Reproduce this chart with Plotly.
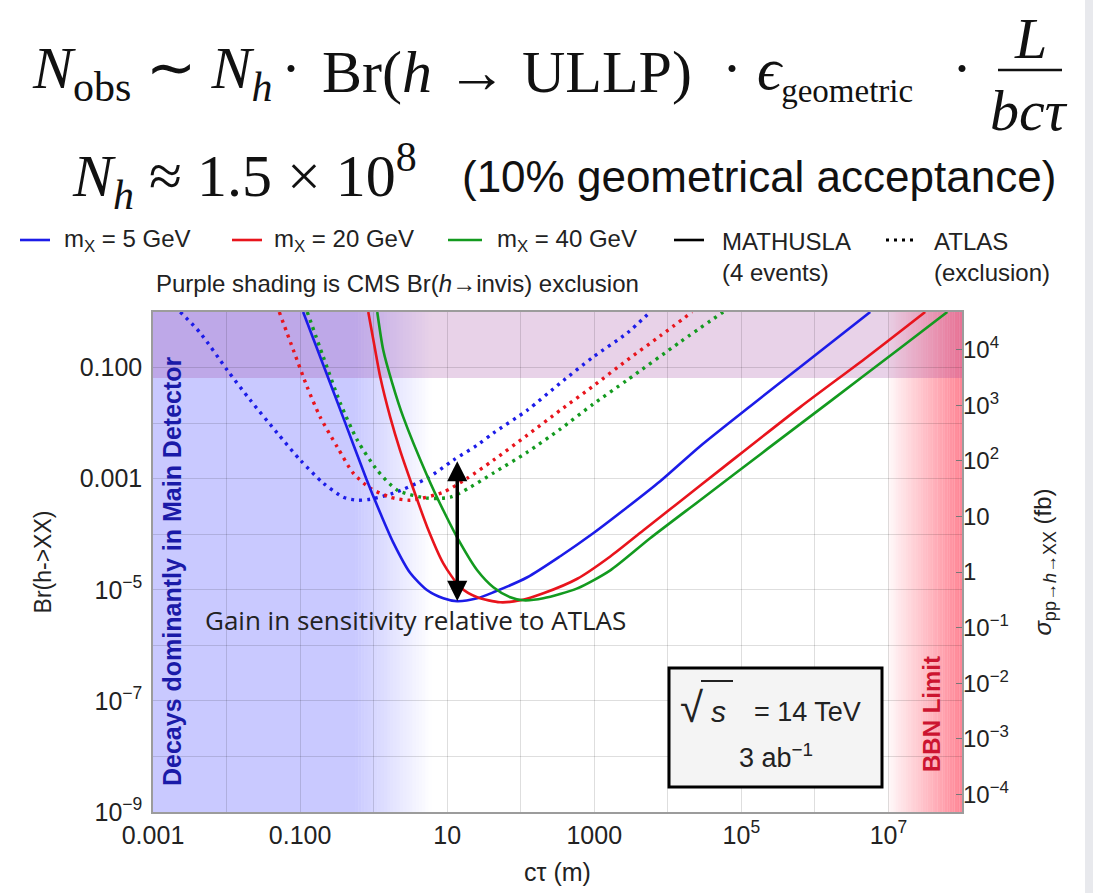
import math
import plotly.graph_objects as go

# ---------------- data ----------------
# MATHUSLA 4-event sensitivity (solid): c*tau [m] vs Br(h->XX)
ct_math_5 = [0.110, 0.213, 0.412, 0.794, 1.26, 1.85, 3.15, 5.36, 8.85, 13.7, 25.6, 42.4, 123, 345, 966, 2810, 7870, 2.75e4, 1.32e5, 6.31e5, 5.65e6]
br_math_5 = [1.0, 0.100, 0.0100, 1.00e-3, 2.24e-4, 7.08e-5, 2.0e-5, 9.8e-6, 7.03e-6, 6.21e-6, 7.03e-6, 9.0e-6, 1.68e-5, 4.02e-5, 1.04e-4, 3.06e-4, 9.0e-4, 3.85e-3, 0.0202, 0.102, 1.0]

ct_math_20 = [0.845, 1.05, 1.23, 1.68, 2.30, 3.15, 5.36, 8.85, 15.1, 25.6, 52.7, 98.6, 203, 588, 1650, 4620, 1.34e4, 5.62e4, 6.31e5, 5.14e6, 3.16e7]
br_math_20 = [1.0, 0.207, 0.0675, 0.0128, 3.16e-3, 9.4e-4, 1.34e-4, 3.0e-5, 1.11e-5, 7.33e-6, 5.96e-6, 6.47e-6, 8.65e-6, 1.58e-5, 3.98e-5, 1.17e-4, 3.55e-4, 1.58e-3, 0.0194, 0.155, 1.0]

ct_math_40 = [1.12, 1.35, 1.79, 2.53, 5.36, 8.85, 15.1, 25.6, 42.4, 72.1, 108, 203, 588, 1650, 5750, 2.75e4, 2.24e5, 1.77e6, 1.45e7, 6.31e7]
br_math_40 = [1.0, 0.207, 0.0526, 0.0128, 1.12e-3, 2.70e-4, 6.89e-5, 2.24e-5, 1.11e-5, 7.33e-6, 6.47e-6, 7.03e-6, 1.06e-5, 2.24e-5, 8.47e-5, 4.10e-4, 3.40e-3, 0.0270, 0.225, 1.0]

# ATLAS exclusion (dotted)
ct_atlas_5 = [2.35e-3, 4.40e-3, 0.0102, 0.0210, 0.0490, 0.101, 0.207, 0.386, 0.600, 0.899, 1.85, 5.36, 12.1, 25.6, 42.4, 123, 345, 966, 2810, 5750]
br_atlas_5 = [1.0, 0.419, 0.0902, 0.0260, 6.61e-3, 2.15e-3, 8.30e-4, 4.64e-4, 4.10e-4, 4.27e-4, 5.48e-4, 1.02e-3, 2.15e-3, 4.02e-3, 6.61e-3, 0.0171, 0.0526, 0.155, 0.419, 1.0]

ct_atlas_20 = [0.0521, 0.0809, 0.125, 0.188, 0.321, 0.528, 0.899, 1.68, 3.15, 8.85, 18.8, 42.4, 123, 345, 966, 2810, 7870, 2.14e4]
br_atlas_20 = [1.0, 0.207, 0.0446, 0.0128, 3.70e-3, 1.26e-3, 6.75e-4, 4.64e-4, 4.10e-4, 5.71e-4, 1.02e-3, 2.15e-3, 6.08e-3, 0.0171, 0.0464, 0.137, 0.370, 1.0]

ct_atlas_40 = [0.125, 0.207, 0.352, 0.600, 1.12, 2.10, 5.36, 11.0, 20.6, 42.4, 123, 345, 966, 2810, 1.47e4, 5.66e4]
br_atlas_40 = [1.0, 0.155, 0.0229, 4.94e-3, 1.42e-3, 6.21e-4, 4.46e-4, 4.64e-4, 7.03e-4, 1.26e-3, 3.0e-3, 7.80e-3, 0.0220, 0.0596, 0.288, 1.0]

series_names = ["m<sub>X</sub> = 5 GeV", "m<sub>X</sub> = 20 GeV", "m<sub>X</sub> = 40 GeV"]
series_colors = ["#1c1ce8", "#e8141c", "#139a1f"]

CMS_BR_LIMIT = 0.065          # purple band: Br(h->invis) exclusion
BBN_CT = 1e7                   # BBN limit (m)
MAIN_DET_CT = 0.56             # decays dominantly in main detector (uniform shading)
MAIN_DET_FADE_CT = 6.2         # shading fades out here
SIGMA_H_FB = 4.8e4             # sigma(pp->h) in fb, links right axis to left
ARROW_CT = 13.7
ARROW_BR_TOP = 2.2e-3
ARROW_BR_BOTTOM = 6.3e-6

X_MIN, X_MAX = 1e-3, 1e8
Y_MIN, Y_MAX = 1e-9, 1.0
x_tick_vals = [1e-3, 1e-1, 1e1, 1e3, 1e5, 1e7]
x_tick_text = ["0.001", "0.100", "10", "1000", "10<sup>5</sup>", "10<sup>7</sup>"]
x_grid_vals = [1e-2, 1, 1e2, 1e4, 1e6, 1e8]
y_tick_vals = [1e-9, 1e-7, 1e-5, 1e-3, 1e-1]
y_tick_text = ["10<sup>−9</sup>", "10<sup>−7</sup>", "10<sup>−5</sup>", "0.001", "0.100"]
y_grid_vals = [1e-8, 1e-6, 1e-4, 1e-2, 1.0]
y2_tick_vals = [1e-4, 1e-3, 1e-2, 1e-1, 1, 10, 1e2, 1e3, 1e4]
y2_tick_text = ["10<sup>−4</sup>", "10<sup>−3</sup>", "10<sup>−2</sup>", "10<sup>−1</sup>",
                "1", "10", "10<sup>2</sup>", "10<sup>3</sup>", "10<sup>4</sup>"]

# ---------------- layout geometry ----------------
W, H = 1093, 893
ML, MR, MT, MB = 153, 131, 312, 81
PW, PH = W - ML - MR, H - MT - MB


def P(px, py):
    return (px - ML) / PW, (H - MB - py) / PH


SANS = "Liberation Sans"
SERIF = "Liberation Serif"
lx0, lx1 = math.log10(X_MIN), math.log10(X_MAX)
ly0, ly1 = math.log10(Y_MIN), math.log10(Y_MAX)

fig = go.Figure()

# ATLAS dotted
for ct, br, col in zip([ct_atlas_5, ct_atlas_20, ct_atlas_40], [br_atlas_5, br_atlas_20, br_atlas_40], series_colors):
    fig.add_trace(go.Scatter(x=ct, y=br, mode="lines", showlegend=False, hoverinfo="skip",
                             line=dict(color=col, width=3.4, dash="3px,5px", shape="spline", smoothing=0.7)))
# MATHUSLA solid
for ct, br, col, nm in zip([ct_math_5, ct_math_20, ct_math_40], [br_math_5, br_math_20, br_math_40], series_colors, series_names):
    fig.add_trace(go.Scatter(x=ct, y=br, mode="lines", name=nm, showlegend=False,
                             line=dict(color=col, width=2.6, shape="spline", smoothing=0.7)))
# right axis carrier
fig.add_trace(go.Scatter(x=[None], y=[None], yaxis="y2", showlegend=False, hoverinfo="skip"))

shapes = []
# main-detector shading (uniform + fade); shape positions on log axes are data values
shapes.append(dict(type="rect", xref="x", yref="y", x0=X_MIN, x1=MAIN_DET_CT, y0=Y_MIN, y1=Y_MAX,
                   fillcolor="rgba(120,120,255,0.40)", line=dict(width=0), layer="below"))
NF = 24
fa, fb = math.log10(MAIN_DET_CT), math.log10(MAIN_DET_FADE_CT)
for i in range(NF):
    a = 0.40 * (1 - (i + 0.5) / NF)
    shapes.append(dict(type="rect", xref="x", yref="y",
                       x0=10 ** (fa + (fb - fa) * i / NF), x1=10 ** (fa + (fb - fa) * (i + 1) / NF),
                       y0=Y_MIN, y1=Y_MAX, fillcolor=f"rgba(120,120,255,{a:.3f})", line=dict(width=0), layer="below"))
# BBN gradient
NB = 30
ba = math.log10(BBN_CT)
for i in range(NB):
    a = 0.03 + 0.60 * (i + 0.5) / NB
    shapes.append(dict(type="rect", xref="x", yref="y",
                       x0=10 ** (ba + (lx1 - ba) * i / NB), x1=10 ** (ba + (lx1 - ba) * (i + 1) / NB),
                       y0=Y_MIN, y1=Y_MAX, fillcolor=f"rgba(255,60,85,{a:.3f})", line=dict(width=0), layer="below"))
# CMS purple band
shapes.append(dict(type="rect", xref="x", yref="y", x0=X_MIN, x1=X_MAX, y0=CMS_BR_LIMIT, y1=Y_MAX,
                   fillcolor="rgba(150,50,150,0.22)", line=dict(width=0), layer="below"))

# legend (manual)
leg_y = 240
leg_items = [(20, 50, series_colors[0], "solid"), (232, 262, series_colors[1], "solid"),
             (448, 482, series_colors[2], "solid"), (674, 704, "black", "solid"), (886, 914, "black", "3px,5px")]
for x0, x1, col, dash in leg_items:
    a0, b0 = P(x0, leg_y)
    a1, _ = P(x1, leg_y)
    shapes.append(dict(type="line", xref="paper", yref="paper", x0=a0, x1=a1, y0=b0, y1=b0,
                       line=dict(color=col, width=3 if dash != "solid" else 2.6, dash=dash)))

# sqrt(s) box
bx0, by0 = P(669, 668)
bx1, by1 = P(882, 787)
shapes.append(dict(type="rect", xref="paper", yref="paper", x0=bx0, x1=bx1, y0=by0, y1=by1,
                   fillcolor="#f4f4f4", line=dict(color="black", width=3), layer="above"))
v0, vy = P(701, 681)
v1, _ = P(733, 681)
shapes.append(dict(type="line", xref="paper", yref="paper", x0=v0, x1=v1, y0=vy, y1=vy,
                   line=dict(color="#222", width=2)))

# fraction bar in the equation
f0, fy = P(998, 70)
f1, _ = P(1062, 70)
shapes.append(dict(type="line", xref="paper", yref="paper", x0=f0, x1=f1, y0=fy, y1=fy,
                   line=dict(color="#111", width=2.5)))

# grey strip on right
g0, gy0 = P(1085, H)
g1, gy1 = P(W + 2, 0)
shapes.append(dict(type="rect", xref="paper", yref="paper", x0=g0, x1=g1, y0=gy0, y1=gy1,
                   fillcolor="#e8e9ed", line=dict(width=0)))

ann = []


def text(px, py, t, size, family=SANS, color="#222", xanchor="center", yanchor="middle", angle=0, align="center"):
    x, y = P(px, py)
    ann.append(dict(x=x, y=y, xref="paper", yref="paper", text=t, showarrow=False, xanchor=xanchor,
                    yanchor=yanchor, textangle=angle, align=align,
                    font=dict(size=size, family=family, color=color)))


# equation line 1
text(30, 72, "<i>N</i><sub>obs</sub> ∼ <i>N<sub>h</sub></i>", 60, SERIF, "#111", xanchor="left")
text(291, 68, "·", 60, SERIF, "#111")
text(320, 72, "Br(<i>h</i> → ULLP)", 60, SERIF, "#111", xanchor="left")
text(732, 68, "·", 60, SERIF, "#111")
text(755, 72, "<i>ϵ</i><sub><span style='font-size:33px'>geometric</span></sub>", 60, SERIF, "#111", xanchor="left")
text(962, 68, "·", 60, SERIF, "#111")
text(1030, 38, "<i>L</i>", 58, SERIF, "#111")
text(1029, 110, "<i>bcτ</i>", 58, SERIF, "#111")
# equation line 2
text(70, 176, "<i>N<sub>h</sub></i> ≈ 1.5 × 10<sup>8</sup>", 60, SERIF, "#111", xanchor="left")
text(460, 176, "(10% geometrical acceptance)", 44, SANS, "#111", xanchor="left")

# legend texts
text(62, 240, series_names[0], 24, xanchor="left")
text(272, 240, series_names[1], 24, xanchor="left")
text(495, 240, series_names[2], 24, xanchor="left")
text(720, 226, "MATHUSLA<br>(4 events)", 24, xanchor="left", yanchor="top", align="left")
text(932, 226, "ATLAS<br>(exclusion)", 24, xanchor="left", yanchor="top", align="left")
text(397, 283, "Purple shading is CMS Br(<i>h</i>→invis) exclusion", 24)

# in-plot texts
text(172, 571, "<b>Decays dominantly in Main Detector</b>", 25, color="#1a1aa8", angle=-90)
text(931, 714, "<b>BBN Limit</b>", 24, color="#cc1430", angle=-90)
text(203, 620, "Gain in sensitivity relative to ATLAS", 26, family="Open Sans", xanchor="left")
text(692, 707, "√", 42, color="#222")
text(718, 711, "<i>s</i>", 30, color="#222")
text(807, 712, "= 14 TeV", 27, color="#222")
text(776, 756, "3 ab<sup>−1</sup>", 27, color="#222")

# double arrow
ann.append(dict(x=math.log10(ARROW_CT), y=math.log10(ARROW_BR_BOTTOM), ax=math.log10(ARROW_CT),
                ay=math.log10(ARROW_BR_TOP), xref="x", yref="y", axref="x", ayref="y", text="",
                showarrow=True, arrowhead=2, startarrowhead=2, arrowside="end+start", arrowsize=1.15,
                startarrowsize=1.15, arrowwidth=3.5, arrowcolor="black", standoff=0, startstandoff=0))

grid = "rgba(0,0,0,0.13)"
fig.update_layout(
    width=W, height=H, margin=dict(l=ML, r=MR, t=MT, b=MB, autoexpand=False),
    paper_bgcolor="white", plot_bgcolor="white", showlegend=False,
    font=dict(family=SANS, color="#222"),
    shapes=shapes, annotations=ann,
    xaxis=dict(type="log", range=[lx0, lx1], tickmode="array",
               tickvals=x_tick_vals, ticktext=x_tick_text,
               minor=dict(tickmode="array", tickvals=x_grid_vals, showgrid=True, gridcolor=grid, gridwidth=1, ticks=""),
               showgrid=True, gridcolor=grid, gridwidth=1, zeroline=False,
               showline=True, mirror=True, linecolor="#9c9c9c", linewidth=1.5, ticks="",
               tickfont=dict(size=25, color="#222"),
               title=dict(text="cτ (m)", font=dict(size=25, color="#222"), standoff=16)),
    yaxis=dict(type="log", range=[ly0, ly1], tickmode="array",
               tickvals=y_tick_vals, ticktext=y_tick_text,
               minor=dict(tickmode="array", tickvals=y_grid_vals, showgrid=True, gridcolor=grid, gridwidth=1, ticks=""),
               showgrid=True, gridcolor=grid, gridwidth=1, zeroline=False,
               showline=True, mirror=True, linecolor="#9c9c9c", linewidth=1.5, ticks="",
               tickfont=dict(size=25, color="#222"), ticklabelstandoff=4,
               title=dict(text="Br(h->XX)", font=dict(size=23, color="#222"), standoff=22)),
    yaxis2=dict(type="log", overlaying="y", side="right",
                range=[math.log10(Y_MIN * SIGMA_H_FB), math.log10(Y_MAX * SIGMA_H_FB)],
                tickmode="array", tickvals=y2_tick_vals, ticktext=y2_tick_text,
                showgrid=False, zeroline=False, showline=False, ticks="inside", ticklen=6,
                tickcolor="#777", tickwidth=1, tickfont=dict(size=24, color="#222"),
                title=dict(text="<i>σ</i><sub><span style='font-size:18px'>pp→<i>h</i>→XX</span></sub> (fb)",
                           font=dict(size=24, color="#222"), standoff=26)),
)

fig.write_html("out.html")
